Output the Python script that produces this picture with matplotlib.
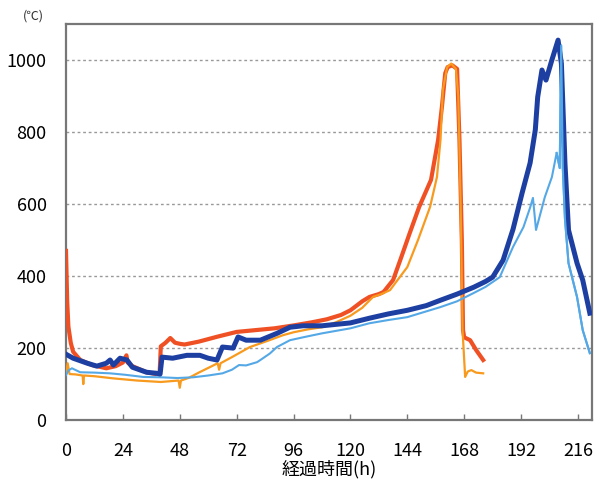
import matplotlib
matplotlib.use("Agg")
import matplotlib.pyplot as plt

plt.rcParams['font.family'] = ['Noto Sans CJK JP', 'DejaVu Sans']

# red-orange (thick)
red_t = [0, 0.5, 1, 2, 3, 6, 11, 17, 21, 24, 25.5, 26, 28, 34, 38, 39.5, 40, 42, 44, 46,
         48, 50, 56, 64, 72, 80, 88, 96, 104, 110, 116, 120, 125, 128, 132, 134, 138, 141,
         145, 149, 154, 157, 158.6, 160, 161, 163, 165, 166, 167, 167.5, 168, 170.5, 173, 176]
red_v = [470, 330, 260, 215, 190, 167, 153, 144, 150, 160, 180, 160, 150, 133, 128, 130,
         205, 215, 228, 215, 212, 210, 218, 232, 245, 250, 255, 263, 272, 280, 292, 305,
         330, 342, 350, 356, 389, 444, 519, 592, 667, 778, 870, 963, 980, 985, 975, 778,
         500, 250, 230, 222, 195, 167]

# orange (thin)
org_t = [0, 0.7, 1.5, 4, 7.0, 7.3, 7.6, 12, 20, 30, 40, 47.5, 48.0, 48.5, 52, 56, 60, 64,
         64.6, 65.2, 70, 77.6, 85, 91.6, 96, 102, 108, 114, 120, 125, 129.5, 133, 136.7,
         140, 144, 148.5, 153.6, 156.5, 158, 159, 160.8, 162.5, 164.5, 165.5, 166.5, 167.3,
         168.4, 169.5, 171, 173, 176]
org_v = [130, 158, 128, 127, 124, 100, 124, 122, 116, 110, 106, 110, 90, 110, 118, 132,
         145, 158, 140, 158, 175, 203, 220, 236, 244, 252, 258, 272, 290, 312, 342, 350,
         361, 390, 425, 500, 592, 675, 778, 917, 980, 990, 975, 900, 600, 250, 120, 135,
         139, 132, 130]

# dark blue (thick)
dblue_t = [0, 3, 9, 13, 17, 18.6, 20, 22.8, 25.7, 28, 34, 38.4, 39.7, 40.5, 45, 51, 56.5,
           60, 63.7, 66, 70.5, 72.6, 76, 82, 89, 94.5, 100, 108, 120, 128, 136, 144, 152,
           158, 165, 172, 177, 180, 184.4, 188.6, 192.4, 195.8, 198, 199, 200.8, 202.5,
           205, 207.6, 209, 210.5, 212, 215.6, 218, 221]
dblue_v = [183, 172, 158, 150, 158, 167, 153, 172, 167, 147, 133, 130, 128, 175, 172, 180,
           180, 172, 167, 203, 200, 231, 222, 222, 241, 258, 262, 262, 270, 283, 295, 305,
           318, 333, 350, 369, 385, 397, 444, 530, 630, 714, 806, 897, 972, 944, 1000,
           1055, 990, 714, 528, 436, 389, 297]

# light blue (thin)
lblue_t = [0, 1, 2.5, 6, 12, 18.6, 25, 32.5, 40, 47, 53.6, 60, 66, 70, 73, 76, 80.6, 82,
           86, 89, 94.5, 100, 108, 120, 128, 136, 144, 158, 165, 172, 177, 183, 188.6, 193,
           195.8, 197, 198.3, 202, 205, 207, 208.3, 208.9, 209.6, 210.5, 212, 215.6, 218, 221]
lblue_v = [125, 138, 144, 133, 132, 130, 126, 120, 119, 117, 119, 124, 130, 140, 153, 152,
           161, 167, 185, 203, 222, 230, 241, 255, 269, 278, 286, 314, 330, 353, 370, 397,
           481, 536, 590, 617, 528, 619, 675, 742, 700, 1040, 700, 560, 436, 342, 250, 186]

x_ticks = [0, 24, 48, 72, 96, 120, 144, 168, 192, 216]
y_ticks = [0, 200, 400, 600, 800, 1000]

fig = plt.figure(figsize=(6.0, 4.88), dpi=100)
ax = fig.add_axes([0.11, 0.139, 0.877, 0.812])

ax.plot(red_t, red_v, color='#EF5124', lw=3.0, zorder=3)
ax.plot(org_t, org_v, color='#F79A1E', lw=1.6, zorder=4)
ax.plot(lblue_t, lblue_v, color='#55A8E6', lw=1.5, zorder=5)
ax.plot(dblue_t, dblue_v, color='#1D3FA2', lw=3.6, zorder=6)
ax.plot(lblue_t[-9:], lblue_v[-9:], color='#55A8E6', lw=1.5, zorder=7)

ax.set_xlim(0, 222)
ax.set_ylim(0, 1100)
ax.set_xticks(x_ticks)
ax.set_yticks(y_ticks)
ax.yaxis.grid(True, linestyle=(0, (2, 2)), color='#999999', lw=1.0)
ax.set_axisbelow(True)

for s in ax.spines.values():
    s.set_color('#777777')
    s.set_linewidth(1.6)

ax.tick_params(axis='x', direction='in', length=4, width=1, color='#777777',
               labelsize=13, pad=16)
ax.tick_params(axis='y', length=0, labelsize=13, pad=14)
ax.set_xlabel('経過時間(h)', fontsize=13, labelpad=0)

fig.text(0.055, 0.968, '(℃)', fontsize=9, ha='center', va='center', color='#333333')

fig.savefig('out.png', dpi=100)
